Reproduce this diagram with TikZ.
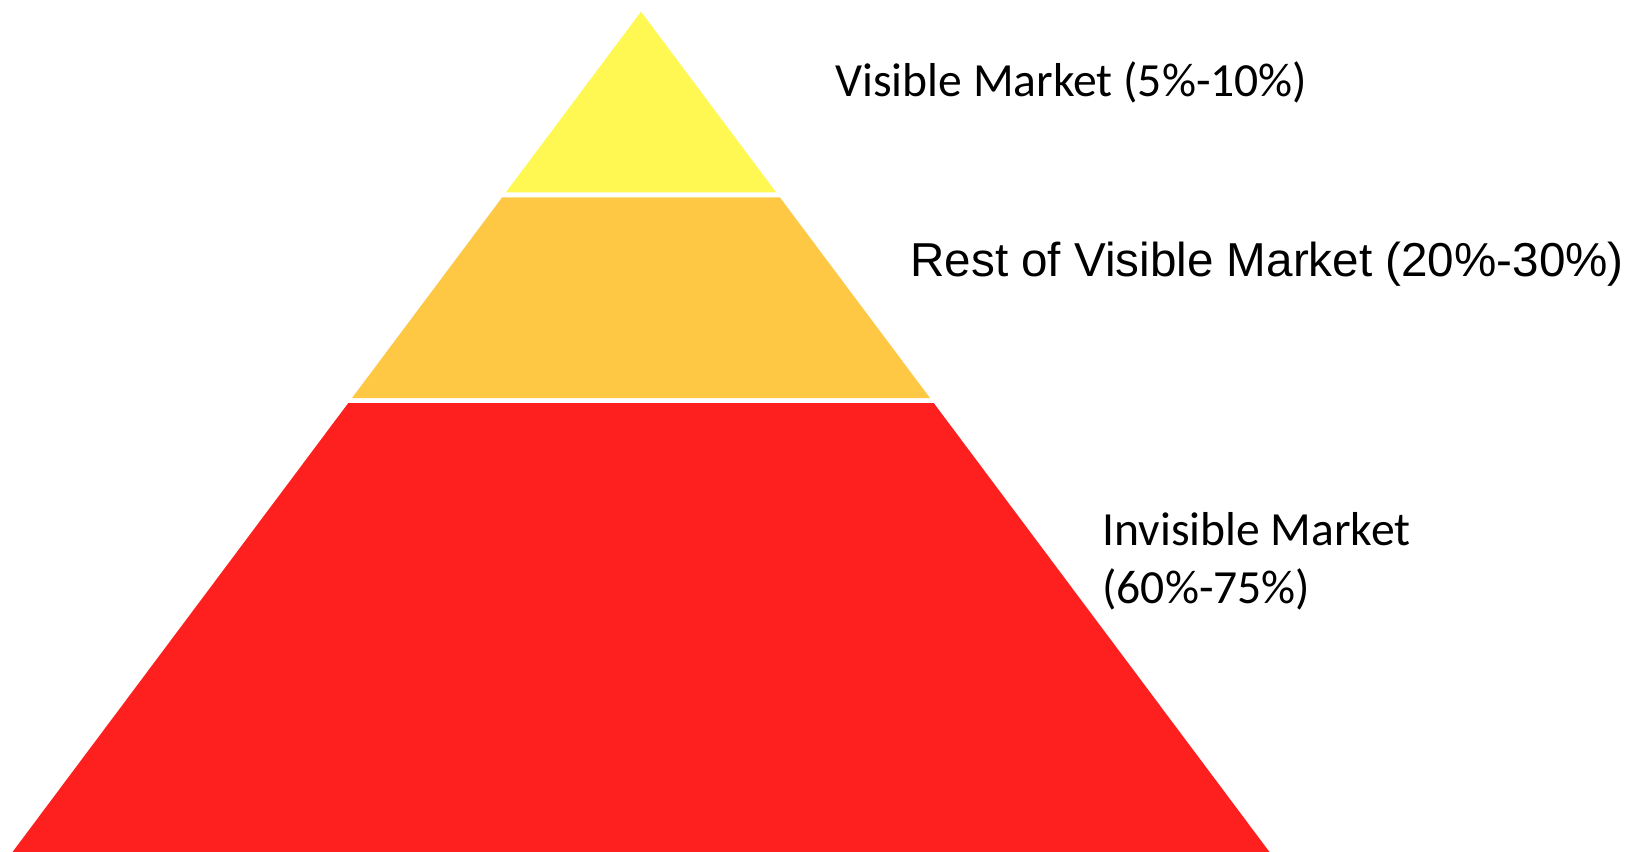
\documentclass[tikz,border=0pt]{standalone}
\usepackage{fontspec}
\setmainfont{Carlito}
\newfontfamily\arialfont{Liberation Sans}
\usepackage{tikz}
\usetikzlibrary{positioning}
\usepackage{xcolor}
\definecolor{tipYellow}{HTML}{FFF853}
\definecolor{midOrange}{HTML}{FEC844}
\definecolor{baseRed}{HTML}{FE201E}

\begin{document}
\begin{tikzpicture}[x=0.5pt,y=-0.5pt]
\tikzstyle{tag}=[anchor=base west,inner sep=0pt,align=left,font=\fontsize{23.8}{29}\selectfont]
\useasboundingbox (0,0) rectangle (1629,852);
% the three layers, white gaps between them
\fill[tipYellow] (641,11.7) -- (776.1,192.3) -- (505.9,192.3) -- cycle;
\fill[midOrange] (502.2,197.3) -- (779.8,197.3) -- (930,398) -- (352,398) -- cycle;
\fill[baseRed] (348.3,403) -- (933.7,403) -- (1269.5,852) -- (12.5,852) -- cycle;
% labels (base of a two-line node is its last line)
\node[tag] (visible) at (835,96) {Visible Market (5\%-10\%)};
\node[tag,font=\fontsize{23.8}{29}\selectfont\arialfont] (rest) at (910,276.7) {Rest of Visible Market (20\%-30\%)};
\node[tag] (invisible) at (1102,603) {Invisible Market\\(60\%-75\%)};
\end{tikzpicture}
\end{document}
